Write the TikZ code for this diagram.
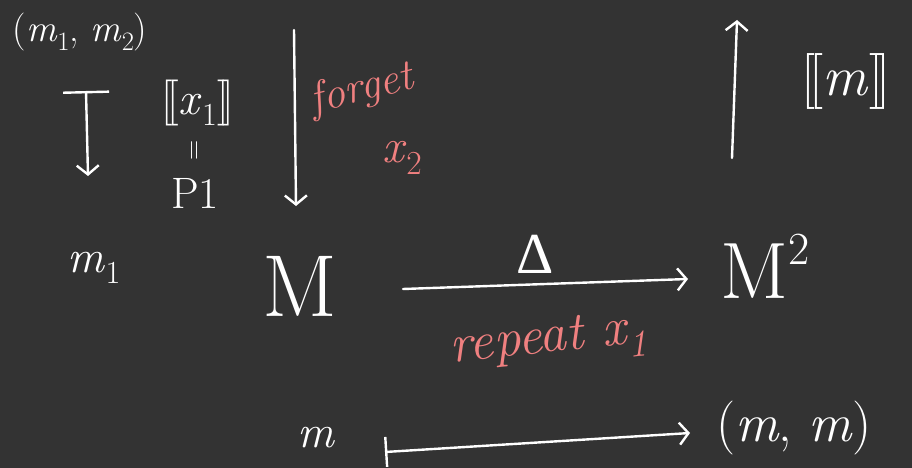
\documentclass[tikz,border=0pt]{standalone}
\usepackage{fontspec}
\newfontfamily\grk{Liberation Serif}
\usetikzlibrary{arrows.meta}
\definecolor{bg}{RGB}{51,51,51}
\definecolor{salmon}{RGB}{240,128,128}
\tikzset{
  lbl/.style={text=white, inner sep=0pt},
  redlbl/.style={text=salmon, inner sep=0pt},
  arr/.style={draw=white, line width=2.4pt, line cap=round,
    -{Straight Barb[length=9pt,width=22pt,line width=2.4pt]}},
  mapsto/.style={draw=white, line width=2.4pt, line cap=round,
    {Bar[width=#1,line width=2.4pt]}-{Straight Barb[length=9pt,width=22pt,line width=2.4pt]}},
}
\newcommand{\fs}[1]{\fontsize{#1}{#1}\selectfont}
\newcommand{\vv}[1]{\textit{#1}}
\newcommand{\sbr}[1]{[\kern-0.12em[#1]\kern-0.12em]}
\newcommand{\sub}[1]{\raisebox{-0.25em}{\scalebox{0.7}{#1}}}
\begin{document}
\begin{tikzpicture}[x=1pt,y=-1pt]
\fill[bg] (0,0) rectangle (912,468);
\useasboundingbox (0,0) rectangle (912,468);

% top-left
\node[lbl, font=\fs{38}] (pair) at (80,32) {(\vv{m}\sub{1}, \vv{m}\sub{2})};
\coordinate (t1) at (86,91);
\coordinate (b1) at (88,176);
\draw[mapsto=46pt] (t1) -- (b1);
\node[lbl, font=\fs{46}] (sem) at (198,103) {\sbr{\vv{x}\sub{1}}};
\node[lbl, font=\fs{28}, rotate=90] (eq) at (197,150) {=};
\node[lbl, font=\fs{44}] (p1) at (195,193) {P1};
\node[lbl, font=\fs{46}] (m1) at (94,268) {\vv{m}\sub{1}};

% forget arrow
\coordinate (ft) at (294,30);
\coordinate (fb) at (296,206);
\draw[arr] (ft) -- (fb);
\node[redlbl, font=\fs{44}\itshape, rotate=14] (forget) at (362,90) {forget};
\node[redlbl, font=\fs{48}] (x2) at (402,158) {\vv{x}\sub{2}};

% main row
\node[lbl, font=\fs{88}] (M) at (300,286) {M};
\node[lbl, font=\fs{80}, anchor=west] (M2) at (720,266) {M\raisebox{0.42em}{\fs{46}2}};
\coordinate (ds) at (403,289);
\coordinate (de) at (688,279);
\draw[arr] (ds) -- (de);
\node[lbl, font=\fs{58}\grk] (delta) at (535,254) {Δ};
\node[redlbl, font=\fs{54}\itshape, rotate=6] (rep) at (548,342) {repeat \vv{x}\sub{1}};

% up arrow
\coordinate (ub) at (732,158);
\coordinate (ut) at (737,20);
\draw[arr] (ub) -- (ut);
\node[lbl, font=\fs{56}] (semm) at (846,82) {\sbr{\vv{m}}};

% bottom row
\node[lbl, font=\fs{46}] (m) at (316,438) {\vv{m}};
\coordinate (ms) at (385,452);
\coordinate (me) at (690,433);
\draw[mapsto=30pt] (ms) -- (me);
\node[lbl, font=\fs{54}] (mm) at (794,428) {(\vv{m}, \vv{m})};
\end{tikzpicture}
\end{document}
